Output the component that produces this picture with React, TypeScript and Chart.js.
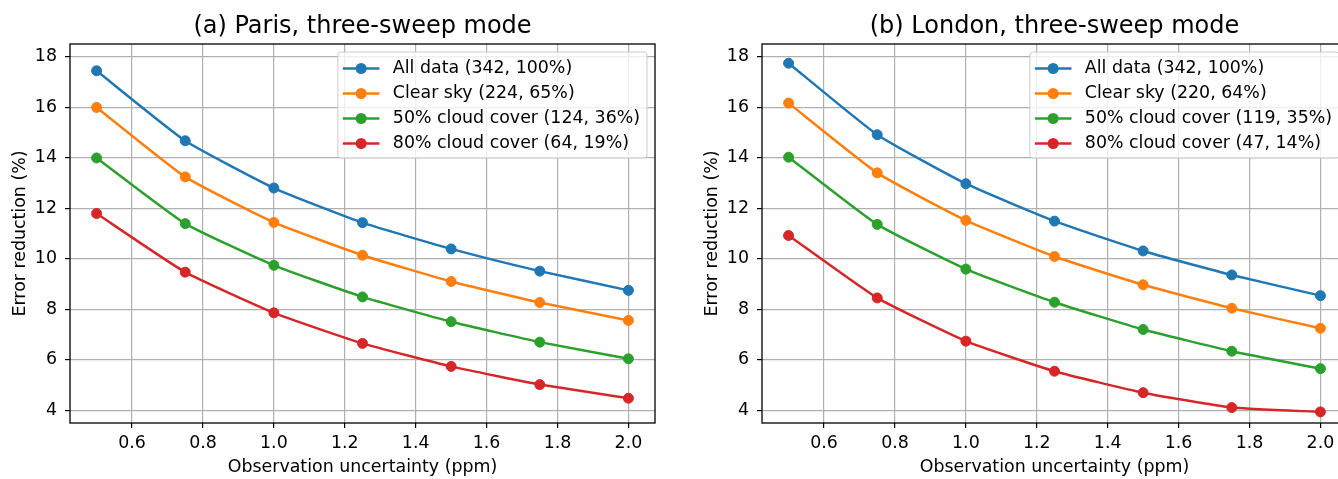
import React, { useEffect, useRef } from 'react';
import { Chart, registerables } from 'chart.js';

Chart.register(...registerables);

const FONT = "'DejaVu Sans', 'Liberation Sans', sans-serif";
const FS = 17.4;

const xValues = [0.5, 0.75, 1.0, 1.25, 1.5, 1.75, 2.0];

const parisAll = [17.44, 14.67, 12.8, 11.43, 10.39, 9.51, 8.75];
const parisClear = [15.99, 13.24, 11.44, 10.14, 9.1, 8.27, 7.56];
const parisCloud50 = [13.99, 11.39, 9.74, 8.49, 7.51, 6.7, 6.04];
const parisCloud80 = [11.79, 9.47, 7.86, 6.65, 5.74, 5.02, 4.48];

const londonAll = [17.74, 14.91, 12.97, 11.49, 10.31, 9.36, 8.54];
const londonClear = [16.16, 13.4, 11.52, 10.09, 8.97, 8.04, 7.25];
const londonCloud50 = [14.02, 11.36, 9.59, 8.28, 7.2, 6.34, 5.65];
const londonCloud80 = [10.92, 8.45, 6.74, 5.55, 4.7, 4.11, 3.94];

const parisLabels = [
  'All data (342, 100%)',
  'Clear sky (224, 65%)',
  '50% cloud cover (124, 36%)',
  '80% cloud cover (64, 19%)',
];
const londonLabels = [
  'All data (342, 100%)',
  'Clear sky (220, 64%)',
  '50% cloud cover (119, 35%)',
  '80% cloud cover (47, 14%)',
];

const parisTitle = '(a) Paris, three-sweep mode';
const londonTitle = '(b) London, three-sweep mode';
const xAxisTitle = 'Observation uncertainty (ppm)';
const yAxisTitle = 'Error reduction (%)';

const seriesColors = ['#1f77b4', '#ff7f0e', '#2ca02c', '#d62728'];

const titlePlugin = {
  id: 'mplTitle',
  afterDraw(chart: any) {
    const { ctx, chartArea } = chart;
    const text = chart.options.plugins.mplTitle.text;
    ctx.save();
    ctx.font = `24px ${FONT}`;
    ctx.fillStyle = '#000';
    ctx.textAlign = 'center';
    ctx.textBaseline = 'middle';
    ctx.fillText(text, (chartArea.left + chartArea.right) / 2, 27);
    ctx.restore();
  },
};

const framePlugin = {
  id: 'frame',
  afterDraw(chart: any) {
    const { ctx, chartArea } = chart;
    ctx.save();
    ctx.strokeStyle = '#000';
    ctx.lineWidth = 1.3;
    ctx.strokeRect(chartArea.left, chartArea.top, chartArea.right - chartArea.left, chartArea.bottom - chartArea.top);
    ctx.restore();
  },
};

const legendPlugin = {
  id: 'boxLegend',
  afterDatasetsDraw(chart: any) {
    const { ctx, chartArea } = chart;
    const ds = chart.data.datasets;
    ctx.save();
    ctx.font = `${FS}px ${FONT}`;
    const maxW = Math.max(...ds.map((d: any) => ctx.measureText(d.label).width));
    const right = chartArea.right - 8;
    const top = chartArea.top + 8;
    const w = 55 + maxW + 7;
    const h = 106;
    const left = right - w;
    ctx.beginPath();
    (ctx as any).roundRect(left, top, w, h, 3);
    ctx.fillStyle = 'rgba(255,255,255,0.8)';
    ctx.fill();
    ctx.strokeStyle = '#cccccc';
    ctx.lineWidth = 1;
    ctx.stroke();
    ds.forEach((d: any, i: number) => {
      const y = top + 16.5 + i * 25;
      ctx.strokeStyle = d.borderColor;
      ctx.lineWidth = 2.5;
      ctx.beginPath();
      ctx.moveTo(left + 5, y);
      ctx.lineTo(left + 41.6, y);
      ctx.stroke();
      ctx.fillStyle = d.borderColor;
      ctx.beginPath();
      ctx.arc(left + 23.3, y, 5.5, 0, Math.PI * 2);
      ctx.fill();
      ctx.fillStyle = '#000';
      ctx.textAlign = 'left';
      ctx.textBaseline = 'middle';
      ctx.fillText(d.label, left + 55, y);
    });
    ctx.restore();
  },
};

function makeConfig(title: string, labels: string[], series: number[][]): any {
  return {
    type: 'line',
    data: {
      datasets: series.map((vals, i) => ({
        label: labels[i],
        data: xValues.map((x, j) => ({ x, y: vals[j] })),
        borderColor: seriesColors[i],
        backgroundColor: seriesColors[i],
        pointBackgroundColor: seriesColors[i],
        pointBorderColor: seriesColors[i],
        pointRadius: 5,
        pointBorderWidth: 1,
        borderWidth: 2.5,
        tension: 0.15,
        fill: false,
      })),
    },
    options: {
      responsive: false,
      animation: false,
      devicePixelRatio: 1,
      layout: { padding: { left: 0, right: 25, top: 44, bottom: 0 } },
      plugins: {
        legend: { display: false },
        tooltip: { enabled: false },
        title: { display: false },
        mplTitle: { text: title },
      },
      scales: {
        x: {
          type: 'linear',
          min: 0.425,
          max: 2.075,
          afterFit: (s: any) => {
            s.height = 56;
          },
          ticks: {
            stepSize: 0.2,
            includeBounds: false,
            autoSkip: false,
            maxRotation: 0,
            callback: (v: any) => Number(v).toFixed(1),
            color: '#000',
            font: { size: FS, family: FONT },
            padding: 5,
          },
          grid: { color: '#b0b0b0', lineWidth: 1.2, tickColor: '#000', tickLength: 5, tickWidth: 1.2 },
          border: { display: false },
          title: {
            display: true,
            text: xAxisTitle,
            color: '#000',
            font: { size: FS, family: FONT },
            padding: { top: 0, bottom: 1 },
          },
        },
        y: {
          type: 'linear',
          min: 3.5,
          max: 18.5,
          afterFit: (s: any) => {
            s.width = 70;
          },
          ticks: {
            stepSize: 2,
            includeBounds: false,
            color: '#000',
            font: { size: FS, family: FONT },
            padding: 8,
          },
          grid: { color: '#b0b0b0', lineWidth: 1.2, tickColor: '#000', tickLength: 5, tickWidth: 1.2 },
          border: { display: false },
          title: {
            display: true,
            text: yAxisTitle,
            color: '#000',
            font: { size: FS, family: FONT },
            padding: { top: 10, bottom: 0 },
          },
        },
      },
    },
    plugins: [framePlugin, legendPlugin, titlePlugin],
  };
}

function Panel({ left, config }: { left: number; config: () => any }) {
  const ref = useRef<HTMLCanvasElement>(null);
  useEffect(() => {
    const chart = new Chart(ref.current as HTMLCanvasElement, config());
    return () => chart.destroy();
  }, []);
  return (
    <canvas
      ref={ref}
      width={680}
      height={479}
      style={{ position: 'absolute', left, top: 0, width: 680, height: 479 }}
    />
  );
}

export default function App() {
  return (
    <div
      style={{
        position: 'fixed',
        left: 0,
        top: 0,
        width: 1338,
        height: 479,
        overflow: 'hidden',
        background: '#fff',
      }}
    >
      <Panel left={0} config={() => makeConfig(parisTitle, parisLabels, [parisAll, parisClear, parisCloud50, parisCloud80])} />
      <Panel
        left={692}
        config={() => makeConfig(londonTitle, londonLabels, [londonAll, londonClear, londonCloud50, londonCloud80])}
      />
    </div>
  );
}
